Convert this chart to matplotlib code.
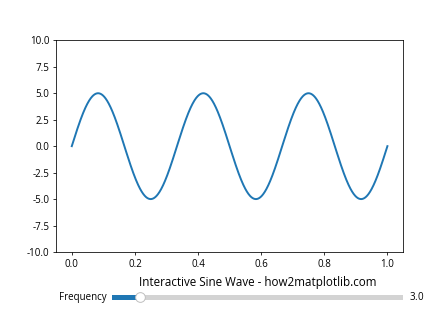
import numpy as np
import matplotlib
matplotlib.use("Agg")
import matplotlib.pyplot as plt
from matplotlib.widgets import Slider

plt.rcParams['font.family'] = ['Open Sans', 'DejaVu Sans']
plt.rcParams['axes.unicode_minus'] = False

amplitude = 5.0
freq_init = 3.0
freq_min, freq_max = 0.1, 30.0
n_points = 1000
title = 'Interactive Sine Wave - how2matplotlib.com'

t = np.linspace(0, 1, n_points)

fig, ax = plt.subplots(figsize=(6.4, 4.8), dpi=70)
plt.subplots_adjust(bottom=0.25)
line, = ax.plot(t, amplitude * np.sin(2 * np.pi * freq_init * t), lw=2)
ax.set_ylim(-10, 10)

ax_freq = plt.axes([0.25, 0.1, 0.65, 0.03])
freq_slider = Slider(ax_freq, 'Frequency', freq_min, freq_max, valinit=freq_init)

def update(val):
    line.set_ydata(amplitude * np.sin(2 * np.pi * freq_slider.val * t))
    fig.canvas.draw_idle()

freq_slider.on_changed(update)
plt.title(title)

plt.savefig('out.png')
